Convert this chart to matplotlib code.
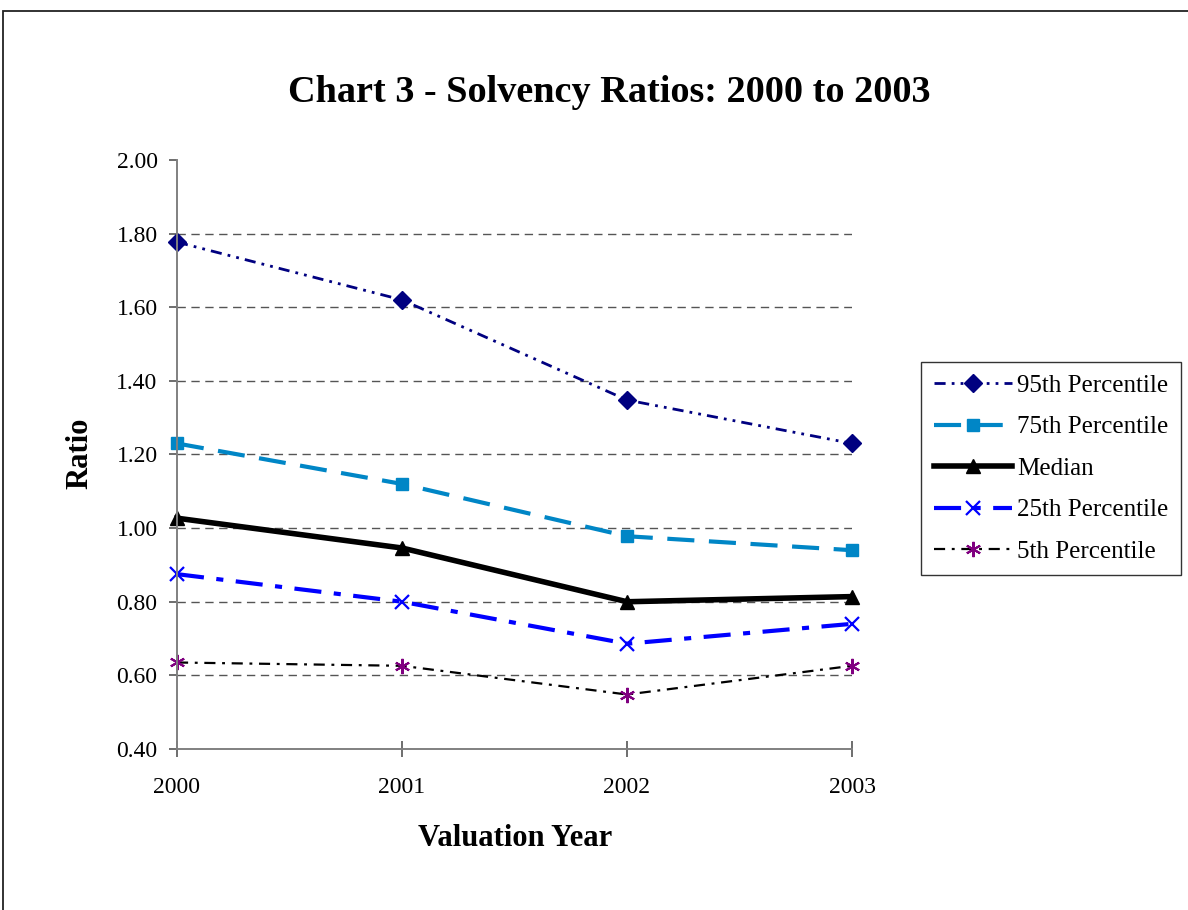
import matplotlib.pyplot as plt
from matplotlib.patches import Rectangle

years = [2000, 2001, 2002, 2003]
p95 = [1.777, 1.620, 1.348, 1.230]
p75 = [1.230, 1.120, 0.978, 0.940]
median = [1.027, 0.946, 0.800, 0.814]
p25 = [0.875, 0.800, 0.686, 0.740]
p5 = [0.635, 0.626, 0.548, 0.626]

plt.rcParams['font.family'] = ['Liberation Serif', 'DejaVu Serif']

fig = plt.figure(figsize=(11.88, 9.10), dpi=100)
ax = fig.add_axes([177/1188, 1 - 749/910, (852 - 177)/1188, (749 - 160)/910])

# outer frame of the chart area
fig.patches.append(Rectangle((2.5/1188, -0.05), 1.1, 1 - 11.5/910 + 0.05,
                             transform=fig.transFigure, fill=False,
                             edgecolor='#222222', linewidth=1.3))

ax.plot(years, p95, color='#000080', lw=2, linestyle=(0, (4, 2.2, 1, 2.2, 1, 2.2)),
        marker='D', markersize=9, label='95th Percentile', clip_on=False)
ax.plot(years, p75, color='#0086C6', lw=3, linestyle=(0, (6.5, 3.5)),
        marker='s', markersize=9, label='75th Percentile', clip_on=False)
ax.plot(years, median, color='black', lw=4,
        marker='^', markersize=10, label='Median', clip_on=False)
ax.plot(years, p25, color='#0000FF', lw=3, linestyle=(0, (6.5, 3, 1.7, 3)),
        marker='x', markersize=10, markeredgewidth=1.6, label='25th Percentile',
        clip_on=False)
ax.plot(years, p5, color='black', lw=1.6, linestyle=(0, (5, 3, 1.3, 3)),
        marker=(6, 2, 0), markersize=11, markeredgewidth=1.5,
        markeredgecolor='#800080', markerfacecolor='#800080', label='5th Percentile',
        clip_on=False)

ax.set_xlim(2000, 2003)
ax.set_ylim(0.4, 2.0)
ax.set_xticks(years)
ax.set_xticklabels([str(y) for y in years])
ax.set_yticks([0.4, 0.6, 0.8, 1.0, 1.2, 1.4, 1.6, 1.8, 2.0])
ax.set_yticklabels(['%.2f' % v for v in [0.4, 0.6, 0.8, 1.0, 1.2, 1.4, 1.6, 1.8, 2.0]])

for v in [0.6, 0.8, 1.0, 1.2, 1.4, 1.6, 1.8]:
    ax.axhline(v, color='#555555', lw=1, linestyle=(0, (6, 4)), zorder=0)

for s in ['top', 'right']:
    ax.spines[s].set_visible(False)
for s in ['left', 'bottom']:
    ax.spines[s].set_color('#808080')
    ax.spines[s].set_linewidth(1.4)

ax.tick_params(axis='y', direction='out', length=6, width=1.2, color='#555555',
               labelsize=17, pad=8)
ax.tick_params(axis='x', direction='inout', length=12, width=1.2, color='#555555',
               labelsize=17, pad=14)

fig.text(609/1188, 1 - 93/910, 'Chart 3 - Solvency Ratios: 2000 to 2003',
         ha='center', va='center', fontsize=27.5, fontweight='bold')
fig.text(515/1188, 1 - 838/910, 'Valuation Year', ha='center', va='center',
         fontsize=22, fontweight='bold')
fig.text(80/1188, 1 - 453/910, 'Ratio', ha='center', va='center', rotation=90,
         fontsize=22, fontweight='bold')

leg = ax.legend(loc='upper left', bbox_to_anchor=(921/1188, 1 - 362/910),
                bbox_transform=fig.transFigure, borderaxespad=0, fontsize=18,
                frameon=True, fancybox=False, handlelength=3.15, labelspacing=0.76,
                handletextpad=0.2, borderpad=0.5)
leg.get_frame().set_edgecolor('black')
leg.get_frame().set_linewidth(1)

fig.savefig('out.png', dpi=100)
